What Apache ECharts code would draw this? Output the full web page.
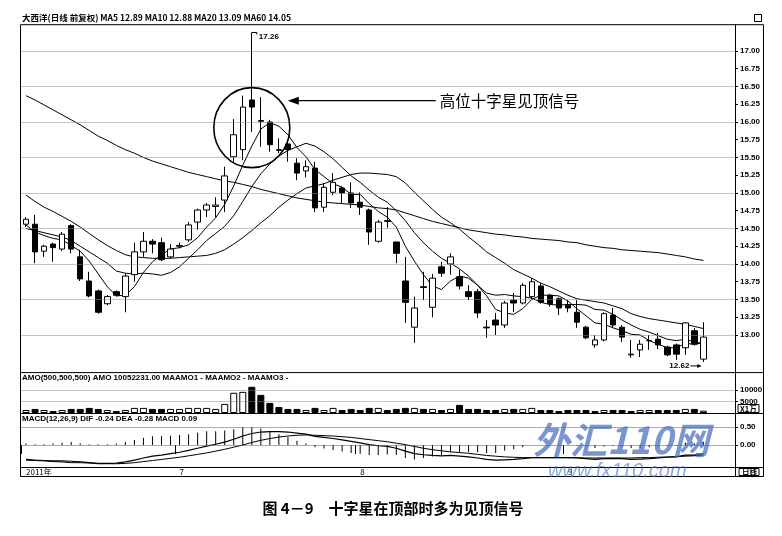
<!DOCTYPE html>
<html><head><meta charset="utf-8">
<script src="https://cdn.jsdelivr.net/npm/echarts@6/dist/echarts.min.js"></script>
<style>html,body{margin:0;padding:0;background:#fff;}#c{width:782px;height:536px;}</style>
</head><body><div id="c"></div>
<script>
// ---------- data ----------
const categories = ['6-09','6-10','6-13','6-14','6-15','6-16','6-17','6-20','6-21','6-22','6-23','6-24','6-27','6-28','6-29','6-30',
 '7-01','7-04','7-05','7-06','7-07','7-08','7-11','7-12','7-13','7-14','7-15','7-18','7-19','7-20','7-21','7-22','7-25','7-26','7-27','7-28','7-29',
 '8-01','8-02','8-03','8-04','8-05','8-08','8-09','8-10','8-11','8-12','8-15','8-16','8-17','8-18','8-19','8-22','8-23','8-24','8-25','8-26','8-29','8-30','8-31',
 '9-01','9-02','9-05','9-06','9-07','9-08','9-09','9-13','9-14','9-15','9-16','9-19','9-20','9-21','9-22','9-23'];
const openP = [14.56,14.56,14.18,14.28,14.21,14.54,14.10,13.76,13.62,13.44,13.61,13.54,13.85,14.17,14.32,14.30,14.10,14.25,14.34,14.59,
 14.76,14.81,14.90,15.51,15.61,16.31,16.02,16.00,15.61,15.69,15.42,15.31,15.35,14.80,15.01,15.07,15.00,14.87,14.76,14.32,
 14.61,14.31,13.76,13.11,13.68,13.39,13.96,14.00,13.82,13.61,13.61,13.11,13.21,13.14,13.49,13.45,13.54,13.69,13.56,13.51,
 13.42,13.32,13.11,12.86,12.93,13.28,13.11,12.73,12.79,12.92,12.94,12.83,12.86,12.82,13.06,12.66];
const closeP = [14.63,14.17,14.25,14.23,14.42,14.21,13.79,13.55,13.32,13.54,13.56,13.83,14.17,14.32,14.28,14.06,14.21,14.26,14.55,14.76,
 14.83,14.83,15.24,15.82,16.21,16.21,16.01,15.68,15.60,15.61,15.28,15.37,14.79,15.08,15.15,15.00,14.86,14.80,14.45,14.59,
 14.60,14.15,13.46,13.38,13.67,13.80,13.87,14.10,13.69,13.54,13.31,13.10,13.14,13.45,13.45,13.70,13.75,13.46,13.44,13.38,
 13.38,13.18,12.96,12.93,13.30,13.14,12.97,12.72,12.87,12.92,12.86,12.72,12.73,13.17,12.87,12.97];
const lowP = [14.52,14.01,14.10,14.03,14.18,14.15,13.76,13.53,13.30,13.42,13.54,13.32,13.75,14.10,14.15,14.04,14.08,14.22,14.31,14.48,
 14.66,14.66,14.73,15.44,15.46,15.86,15.65,15.58,15.56,15.44,15.18,15.22,14.73,14.73,14.97,14.86,14.79,14.69,14.27,14.30,
 14.51,14.01,13.17,12.89,13.49,13.25,13.82,13.85,13.64,13.49,13.24,12.96,13.00,13.10,13.32,13.43,13.50,13.44,13.40,13.28,
 13.32,13.10,12.94,12.82,12.91,13.10,12.90,12.68,12.69,12.79,12.80,12.70,12.65,12.72,12.85,12.62];
const highP = [14.66,14.69,14.27,14.30,14.45,14.56,14.20,13.89,13.64,13.56,13.63,13.87,14.30,14.45,14.35,14.37,14.28,14.30,14.59,14.78,
 14.86,14.94,15.37,16.04,16.37,17.26,16.35,16.03,15.77,15.75,15.49,15.46,15.44,15.14,15.28,15.10,15.15,15.01,14.78,14.62,
 14.80,14.31,14.10,13.54,13.89,13.86,14.03,14.15,13.92,13.70,13.65,13.21,13.31,13.48,13.59,13.73,13.80,13.73,13.58,13.53,
 13.49,13.49,13.13,13.00,13.32,13.38,13.14,12.93,12.93,13.00,13.03,12.85,12.88,13.18,13.10,13.18];
const ma5 = [14.55,14.45,14.40,14.36,14.34,14.26,14.18,14.04,13.86,13.68,13.55,13.56,13.68,13.88,14.03,14.13,14.21,14.23,14.27,14.37,
 14.52,14.65,14.84,15.10,15.39,15.66,15.90,15.99,15.94,15.82,15.64,15.51,15.33,15.23,15.13,15.08,14.98,14.98,14.85,14.74,
 14.66,14.52,14.25,14.04,13.85,13.69,13.64,13.76,13.83,13.80,13.70,13.55,13.36,13.31,13.29,13.37,13.50,13.56,13.56,13.55,
 13.48,13.37,13.27,13.17,13.15,13.10,13.06,13.01,13.00,12.92,12.87,12.82,12.82,12.88,12.87,12.89];
const ma10 = [14.50,14.47,14.44,14.41,14.38,14.33,14.25,14.17,14.09,14.01,13.90,13.87,13.86,13.87,13.86,13.84,13.88,13.96,14.08,14.20,
 14.33,14.43,14.53,14.68,14.88,15.09,15.27,15.41,15.52,15.60,15.65,15.70,15.66,15.58,15.48,15.36,15.24,15.15,15.04,14.94,
 14.87,14.75,14.61,14.44,14.30,14.18,14.08,14.01,13.93,13.83,13.70,13.59,13.56,13.57,13.55,13.54,13.52,13.46,13.43,13.42,
 13.43,13.43,13.42,13.36,13.35,13.29,13.21,13.14,13.08,13.04,12.99,12.94,12.92,12.94,12.90,12.88];
const ma20 = [14.97,14.88,14.80,14.74,14.67,14.60,14.52,14.43,14.34,14.26,14.19,14.13,14.10,14.09,14.08,14.08,14.08,14.09,14.10,14.11,
 14.12,14.15,14.20,14.28,14.37,14.47,14.58,14.68,14.80,14.90,14.99,15.07,15.10,15.13,15.18,15.22,15.26,15.28,15.28,15.27,
 15.26,15.23,15.14,15.01,14.89,14.77,14.66,14.58,14.49,14.38,14.28,14.17,14.09,14.01,13.92,13.86,13.80,13.73,13.68,13.62,
 13.56,13.51,13.49,13.47,13.45,13.41,13.37,13.30,13.26,13.23,13.21,13.19,13.17,13.15,13.12,13.09];
const ma60 = [16.37,16.31,16.24,16.17,16.10,16.03,15.96,15.88,15.80,15.74,15.67,15.61,15.56,15.50,15.45,15.41,15.37,15.33,15.29,15.26,
 15.23,15.20,15.17,15.15,15.12,15.09,15.05,15.02,14.99,14.96,14.93,14.91,14.89,14.87,14.86,14.85,14.84,14.83,14.81,14.79,
 14.78,14.76,14.72,14.68,14.64,14.60,14.57,14.54,14.51,14.48,14.46,14.44,14.42,14.41,14.39,14.38,14.36,14.35,14.34,14.33,
 14.31,14.30,14.27,14.25,14.23,14.22,14.20,14.19,14.18,14.17,14.16,14.14,14.12,14.10,14.07,14.05];
// AMO, unit: 万元
const amo = [1300,1750,1300,870,1300,1750,1750,2200,1750,1300,870,1300,2200,2200,1750,1750,1750,1750,2200,2200,
 2200,1750,3900,8700,9100,11300,7800,4350,2600,1750,1750,1300,2200,1300,2200,1300,1750,1300,2200,2200,
 1300,1750,2200,2200,1750,1750,1300,1750,3500,1750,1750,1300,1300,1750,1750,1750,2200,1300,1300,870,
 1300,1300,1300,870,1300,1300,1300,870,1300,1300,1300,1300,1300,1750,1750,1005.2231];
const dif = [-0.40,-0.42,-0.43,-0.44,-0.44,-0.45,-0.47,-0.49,-0.51,-0.51,-0.50,-0.47,-0.42,-0.36,-0.31,-0.28,-0.24,-0.20,-0.15,-0.09,
 -0.03,0.02,0.08,0.16,0.25,0.32,0.36,0.37,0.37,0.36,0.33,0.30,0.24,0.21,0.18,0.14,0.10,0.06,0.01,-0.02,
 -0.04,-0.09,-0.17,-0.24,-0.27,-0.29,-0.30,-0.29,-0.31,-0.33,-0.36,-0.40,-0.42,-0.41,-0.40,-0.38,-0.35,-0.35,-0.35,-0.35,
 -0.35,-0.36,-0.38,-0.40,-0.38,-0.37,-0.38,-0.40,-0.39,-0.38,-0.36,-0.34,-0.33,-0.28,-0.28,-0.24];
const dea = [-0.42,-0.43,-0.44,-0.46,-0.47,-0.49,-0.49,-0.50,-0.52,-0.52,-0.52,-0.51,-0.49,-0.46,-0.43,-0.40,-0.37,-0.34,-0.30,-0.26,
 -0.22,-0.17,-0.12,-0.06,0.00,0.07,0.13,0.18,0.22,0.25,0.27,0.28,0.27,0.26,0.25,0.23,0.21,0.18,0.15,0.12,
 0.09,0.05,0.01,-0.04,-0.09,-0.13,-0.16,-0.19,-0.21,-0.23,-0.26,-0.29,-0.31,-0.33,-0.34,-0.35,-0.35,-0.35,-0.35,-0.35,
 -0.35,-0.35,-0.36,-0.36,-0.36,-0.36,-0.36,-0.36,-0.35,-0.35,-0.34,-0.33,-0.32,-0.31,-0.30,-0.28];
const macd = [0.04,0.02,0.02,0.04,0.06,0.08,0.04,0.02,0.02,0.02,0.04,0.08,0.14,0.20,0.24,0.24,0.26,0.28,0.30,0.34,
 0.38,0.38,0.40,0.44,0.50,0.50,0.46,0.38,0.30,0.22,0.12,0.04,-0.06,-0.10,-0.14,-0.18,-0.22,-0.24,-0.28,-0.28,
 -0.26,-0.28,-0.36,-0.40,-0.36,-0.32,-0.28,-0.20,-0.20,-0.20,-0.20,-0.22,-0.22,-0.16,-0.12,-0.06,0.00,0.00,0.00,0.00,
 0.00,-0.02,-0.04,-0.08,-0.04,-0.02,-0.04,-0.08,-0.08,-0.06,-0.04,-0.02,-0.02,0.06,0.04,0.09];
const priceTicks = [13.00,13.25,13.50,13.75,14.00,14.25,14.50,14.75,15.00,15.25,15.50,15.75,16.00,16.25,16.50,16.75,17.00];
const priceGridLevels = [13.0,13.5,14.0,14.5,15.0,15.5,16.0,16.5,17.0];
const amoTicks = [5000,10000];
const macdTicks = [0,0.5];
const timeTicks = [[0,'2011年'],[17,'7'],[37,'8'],[60,'9']];
const stockName = '大西洋(日线 前复权)';
const caption = '图 4－9　十字星在顶部时多为见顶信号';
const note = '高位十字星见顶信号';

// ---------- chart ----------
const NUM = '"Liberation Sans", Arial, sans-serif';
const CJK = '"Noto Sans CJK SC", "Noto Sans", sans-serif';
const tickMap = {}; timeTicks.forEach(t => tickMap[t[0]] = t[1]);
const L = 21.5, RIGHT_EDGE = 735, R = 782 - RIGHT_EDGE;
const candles = categories.map((_, i) => [openP[i], closeP[i], lowP[i], highP[i]]);
const amoData = amo.map((v, i) => closeP[i] >= openP[i]
  ? {value: v, itemStyle: {color: '#fff', borderColor: '#000', borderWidth: 1}}
  : {value: v, itemStyle: {color: '#000', borderColor: '#000', borderWidth: 1}});
const dotted = {type: 'dotted', color: '#888', width: 1};
const lineS = (name, data, xi, w) => ({name, type: 'line', data, xAxisIndex: xi, yAxisIndex: xi,
  showSymbol: false, symbol: 'none', smooth: false, lineStyle: {color: '#000', width: w || 1}, silent: true, z: 3});
const xAx = g => ({type: 'category', gridIndex: g, data: categories, max: 78, boundaryGap: true,
  axisLine: {show: false}, axisTick: {show: false}, axisLabel: {show: false}, splitLine: {show: false}});
const axLab = (vals, fmt) => ({show: true, customValues: vals, formatter: fmt, fontSize: 8, fontWeight: 'bold',
  color: '#000', fontFamily: NUM, margin: 5});

const chart = echarts.init(document.getElementById('c'));
const option = {
  animation: false,
  backgroundColor: '#fff',
  grid: [
    {left: L, right: R, top: 24.7, height: 347.9},
    {left: L, right: R, top: 372.6, height: 40.4},
    {left: L, right: R, top: 414, height: 53}
  ],
  xAxis: [xAx(0), xAx(1), Object.assign(xAx(2), {
    axisTick: {show: true, interval: i => tickMap[i] !== undefined, length: 9, lineStyle: {color: '#000'}},
    axisLabel: {show: true, interval: i => tickMap[i] !== undefined, formatter: (v, i) => tickMap[i] || '',
      align: 'left', fontSize: 8, color: '#000', fontFamily: CJK, margin: 1}
  })],
  yAxis: [
    {gridIndex: 0, position: 'right', min: 12.47, max: 17.37,
     axisLine: {show: true, lineStyle: {color: '#000'}},
     axisTick: {show: true, customValues: priceTicks, length: 3, lineStyle: {color: '#000'}},
     axisLabel: axLab(priceTicks, v => v.toFixed(2)), splitLine: {show: false}},
    {gridIndex: 1, position: 'right', min: 0, max: 17400,
     axisLine: {show: true, lineStyle: {color: '#000'}},
     axisTick: {show: true, customValues: amoTicks, length: 3, lineStyle: {color: '#000'}},
     axisLabel: axLab(amoTicks, v => String(v)), splitLine: {show: false}},
    {gridIndex: 2, position: 'right', min: -0.61, max: 0.86,
     axisLine: {show: true, lineStyle: {color: '#000'}},
     axisTick: {show: true, customValues: macdTicks, length: 3, lineStyle: {color: '#000'}},
     axisLabel: axLab(macdTicks, v => v.toFixed(2)), splitLine: {show: false}}
  ],
  series: [
    {name: 'K', type: 'candlestick', data: candles, xAxisIndex: 0, yAxisIndex: 0, barWidth: 6, z: 4,
     itemStyle: {color: '#fff', color0: '#000', borderColor: '#000', borderColor0: '#000', borderWidth: 1},
     markLine: {symbol: 'none', silent: true, label: {show: false}, lineStyle: dotted, data: priceGridLevels.map(v => ({yAxis: v}))}},
    lineS('MA5', ma5, 0), lineS('MA10', ma10, 0), lineS('MA20', ma20, 0), lineS('MA60', ma60, 0),
    {name: 'AMO', type: 'bar', data: amoData, xAxisIndex: 1, yAxisIndex: 1, barWidth: 7,
     markLine: {symbol: 'none', silent: true, label: {show: false}, lineStyle: dotted, data: amoTicks.map(v => ({yAxis: v}))}},
    {name: 'MACD', type: 'bar', data: macd, xAxisIndex: 2, yAxisIndex: 2, barWidth: 1, itemStyle: {color: '#000'},
     markLine: {symbol: 'none', silent: true, label: {show: false}, lineStyle: {type: 'dotted', color: '#555', width: 1}, data: macdTicks.map(v => ({yAxis: v}))}},
    lineS('DIF', dif, 2, 1.2), lineS('DEA', dea, 2, 1)
  ]
};
chart.setOption(option);

// ---------- annotations & frame ----------
const P = (g, i, v) => chart.convertToPixel({xAxisIndex: g, yAxisIndex: g}, [i, v]);
const n = categories.length;
const f2 = v => v.toFixed(2);
const hiIdx = highP.indexOf(Math.max(...highP));
const loIdx = lowP.lastIndexOf(Math.min(...lowP));
const hiPt = P(0, hiIdx, highP[hiIdx]);
const loPt = P(0, loIdx, lowP[loIdx]);
const cen = P(0, hiIdx, 15.92);
const X0 = 20.5, X1 = RIGHT_EDGE + 0.5, X2 = 763.5;
const yTop = 24.7, ySep1 = 372.6, ySep2 = 413.5, ySep3 = 467.5, yBot = 476.5;
const ln = (x1, y1, x2, y2, w) => ({type: 'line', shape: {x1, y1, x2, y2}, style: {stroke: '#000', lineWidth: w || 1}, silent: true, z: 10});
const tx = (x, y, text, o) => ({type: 'text', x, y, silent: true, z: 11,
  style: Object.assign({text, fill: '#000', font: 'bold 8px ' + NUM, textVerticalAlign: 'middle'}, o || {})});
const g = [
  ln(X0, yTop, X2, yTop), ln(X0, ySep1, X2, ySep1), ln(X0, ySep2, X2, ySep2), ln(X0, ySep3, X2, ySep3), ln(X0, yBot, X2, yBot),
  ln(X0, yTop, X0, yBot), ln(X1, yTop, X1, yBot), ln(X2, yTop, X2, yBot),
  tx(22, 18, stockName + ' MA5 ' + f2(ma5[n-1]) + ' MA10 ' + f2(ma10[n-1]) + ' MA20 ' + f2(ma20[n-1]) + ' MA60 ' + f2(ma60[n-1]), {font: 'bold 8.5px ' + CJK}),
  tx(22, 378, 'AMO(500,500,500) AMO ' + (amo[n-1] * 10000).toFixed(2) + ' MAAMO1 - MAAMO2 - MAAMO3 -', {font: 'bold 8px ' + NUM}),
  tx(22, 419, 'MACD(12,26,9) DIF ' + f2(dif[n-1]) + ' DEA ' + f2(dea[n-1]) + ' MACD ' + f2(macd[n-1]), {font: 'bold 8px ' + NUM}),
  {type: 'rect', shape: {x: 738, y: 404.5, width: 21, height: 8}, style: {fill: 'none', stroke: '#000', lineWidth: 1}, silent: true, z: 10},
  tx(740, 408.7, 'X1万', {font: 'bold 7.5px ' + CJK}),
  {type: 'rect', shape: {x: 739, y: 468.5, width: 20, height: 7}, style: {fill: 'none', stroke: '#000', lineWidth: 1}, silent: true, z: 10},
  tx(742, 472, '日线', {font: 'bold 7.5px ' + CJK}),
  {type: 'rect', shape: {x: 754.5, y: 14.5, width: 7, height: 7}, style: {fill: 'none', stroke: '#000', lineWidth: 1}, silent: true, z: 10},
  // high label
  {type: 'polyline', shape: {points: [[hiPt[0], hiPt[1]], [hiPt[0] + 5, hiPt[1]], [hiPt[0] + 5, hiPt[1] + 2]]}, style: {stroke: '#000', lineWidth: 1, fill: 'none'}, silent: true, z: 10},
  tx(hiPt[0] + 7, hiPt[1] + 4, f2(highP[hiIdx])),
  // low label
  tx(loPt[0] - 14, loPt[1] + 4, f2(lowP[loIdx]), {textAlign: 'right'}),
  ln(loPt[0] - 13, loPt[1] + 4, loPt[0] - 3, loPt[1] + 4),
  {type: 'polygon', shape: {points: [[loPt[0] - 2, loPt[1] + 4], [loPt[0] - 6, loPt[1] + 2], [loPt[0] - 6, loPt[1] + 6]]}, style: {fill: '#000'}, silent: true, z: 10},
  // circle, arrow, note
  {type: 'ellipse', shape: {cx: cen[0], cy: cen[1], rx: 38, ry: 40}, style: {fill: 'none', stroke: '#000', lineWidth: 1.6}, silent: true, z: 12},
  ln(cen[0] + 44, cen[1] - 27, cen[0] + 184, cen[1] - 27, 1.2),
  {type: 'polygon', shape: {points: [[cen[0] + 36, cen[1] - 27], [cen[0] + 47, cen[1] - 31], [cen[0] + 47, cen[1] - 23]]}, style: {fill: '#000'}, silent: true, z: 12},
  tx(cen[0] + 188, cen[1] - 27, note, {font: '15.5px ' + CJK}),
  // watermark
  tx(533, 440, '外汇110网', {font: 'italic bold 37px ' + CJK, fill: 'rgba(70,110,190,0.72)'}),
  tx(548, 471, 'www.fx110.com', {font: 'italic 20px ' + NUM, fill: 'rgba(70,110,190,0.6)'}),
  // caption
  {type: 'text', x: 393, y: 508, silent: true, style: {text: caption, font: 'bold 15px ' + CJK, fill: '#000', textAlign: 'center', textVerticalAlign: 'middle'}}
];
chart.setOption({graphic: g});
</script></body></html>
